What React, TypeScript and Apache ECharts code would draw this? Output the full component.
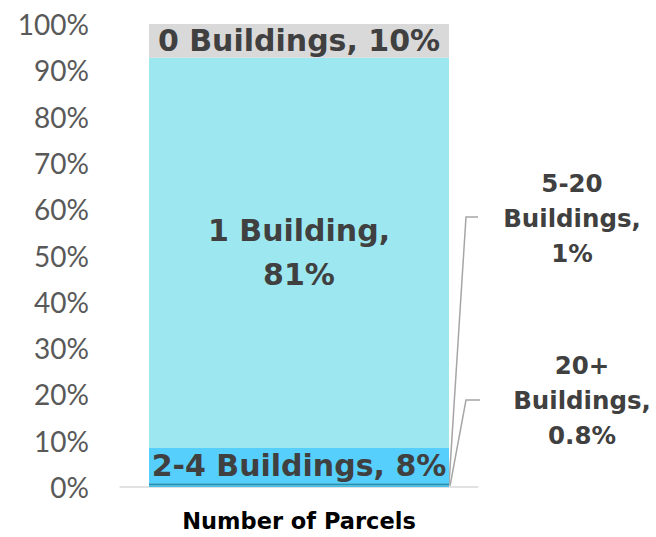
import React, { useEffect, useRef } from 'react';
import * as echarts from 'echarts';

// Data (stacked bottom -> top)
const categories = ['Number of Parcels'];
const segmentNames = ['20+ Buildings', '5-20 Buildings', '2-4 Buildings', '1 Building', '0 Buildings'];
const segmentValues = [0.35, 0.45, 7.6, 84.3, 7.3];
const segmentShares = ['0.8%', '1%', '8%', '81%', '10%'];
const segmentColors = ['#45bde6', '#1a93b5', '#57cffc', '#9de8f0', '#d9d9d9'];
const yMin = 0;
const yMax = 100;
const yInterval = 10;

const labelTexts = [
  '20+\nBuildings,\n' + segmentShares[0],
  '5-20\nBuildings,\n' + segmentShares[1],
  segmentNames[2] + ', ' + segmentShares[2],
  segmentNames[3] + ',\n' + segmentShares[3],
  segmentNames[4] + ', ' + segmentShares[4],
];

export default function App() {
  const ref = useRef<HTMLDivElement>(null);

  useEffect(() => {
    document.body.style.margin = '0';
    const chart = echarts.init(ref.current as HTMLDivElement, null, { renderer: 'svg' });

    const boldFont = 'DejaVu Sans';
    const textColor = '#404040';
    const outsideLabelPos = [
      { x: 582, y: 400 },
      { x: 572, y: 218 },
    ];

    const series = segmentNames.map((name, i) => {
      const outside = i < 2;
      const s: any = {
        type: 'bar',
        name,
        stack: 'total',
        data: [segmentValues[i]],
        barWidth: 300,
        itemStyle: { color: segmentColors[i] },
        label: {
          show: true,
          position: 'inside',
          formatter: () => labelTexts[i],
          fontFamily: boldFont,
          fontWeight: 'bold',
          fontSize: outside ? 24.5 : 30,
          lineHeight: outside ? 35 : 44,
          color: textColor,
          align: 'center',
          verticalAlign: 'middle',
        },
      };
      if (outside) {
        s.labelLayout = {
          x: outsideLabelPos[i].x,
          y: outsideLabelPos[i].y,
          align: 'center',
          verticalAlign: 'middle',
        };
      }
      return s;
    });

    chart.setOption({
      animation: false,
      grid: { left: 120, right: 178, top: 24, bottom: 50, containLabel: false },
      xAxis: {
        type: 'category',
        data: categories,
        axisLine: { show: true, lineStyle: { color: '#d9d9d9', width: 1.5 } },
        axisTick: { show: false },
        axisLabel: {
          fontFamily: boldFont,
          fontWeight: 'bold',
          fontSize: 22.5,
          lineHeight: 23,
          color: '#000000',
          margin: 22,
        },
      },
      yAxis: {
        type: 'value',
        min: yMin,
        max: yMax,
        interval: yInterval,
        axisLine: { show: false },
        axisTick: { show: false },
        splitLine: { show: false },
        axisLabel: {
          formatter: '{value}%',
          fontFamily: 'Lato',
          fontSize: 28,
          color: '#595959',
          margin: 31,
        },
      },
      series,
    });

    // Leader lines from the outside labels to the thin segments
    const barHalf = 150;
    let cum = 0;
    const graphics: any[] = [];
    const starts = [
      { x0: 480, y0: 400 },
      { x0: 478, y0: 217 },
    ];
    for (let i = 0; i < 2; i++) {
      const mid = cum + segmentValues[i] / 2;
      cum += segmentValues[i];
      const p = chart.convertToPixel({ xAxisIndex: 0, yAxisIndex: 0 }, [0, mid]) as number[];
      const endX = p[0] + barHalf + (i === 0 ? 1 : 0);
      graphics.push({
        type: 'polyline',
        silent: true,
        shape: {
          points: [
            [starts[i].x0, starts[i].y0],
            [466, starts[i].y0],
            [endX, p[1]],
          ],
        },
        style: { stroke: '#a6a6a6', lineWidth: 1.5, fill: 'none' },
      });
    }
    chart.setOption({ graphic: graphics });

    return () => {
      chart.dispose();
    };
  }, []);

  return <div ref={ref} style={{ width: 656, height: 537 }} />;
}
